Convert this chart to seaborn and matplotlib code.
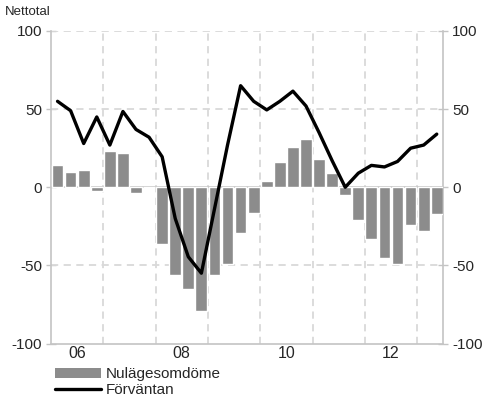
import numpy as np
import pandas as pd
import matplotlib
matplotlib.use("Agg")
import matplotlib.pyplot as plt
from matplotlib.lines import Line2D
from matplotlib.patches import Patch
import seaborn as sns

# quarterly data 2006Q1 - 2013Q2
years = [2006, 2007, 2008, 2009, 2010, 2011, 2012, 2013]
quarters = [f"{y}Q{q}" for y in years for q in range(1, 5)][:30]
nulage = [14, 10, 11, -2.5, 23, 22, -3.5, 0,
          -36, -56, -65, -79, -56, -49, -29, -16.5,
          4, 16, 25.5, 31, 18, 9, -5, -21,
          -33, -45, -49, -24, -28, -17]
forvantan = [55, 49, 28, 45, 27, 48.5, 37, 32,
             19.5, -20, -44.5, -55, -14, 27, 65, 55,
             49.5, 55, 61.5, 52, 35, 17, 0, 9,
             14, 13, 16.5, 25, 27, 34]
year_labels = ["06", "08", "10", "12"]
yticks = [-100, -50, 0, 50, 100]

df = pd.DataFrame({"kvartal": quarters, "Nulägesomdöme": nulage,
                   "Förväntan": forvantan})
df["pos"] = np.arange(len(df))

sns.set_style("white")
plt.rcParams["font.family"] = ["Liberation Sans", "DejaVu Sans"]

bar_color = "#8c8c8c"
grid_color = "#d9d9d9"
spine_color = "#c4c4c4"

fig = plt.figure(figsize=(4.89, 4.03), dpi=100)
ax = fig.add_axes([51 / 489, 1 - 343.5 / 403, 392.3 / 489, 312.5 / 403])

sns.barplot(data=df, x="kvartal", y="Nulägesomdöme", color=bar_color,
            saturation=1, width=0.9, ax=ax, zorder=3)
sns.lineplot(data=df, x="pos", y="Förväntan", color="black", linewidth=2.4,
             ax=ax, zorder=4)

ax.set_xlim(-0.5, len(df) - 0.5)
ax.set_ylim(-100, 100)

# grid lines
for yv in [50, -50, 100]:
    ax.axhline(yv, color=grid_color, linestyle=(0, (4, 3)), linewidth=1.3, zorder=1)
ax.axhline(0, color=spine_color, linewidth=1.2, zorder=2)
for xv in np.arange(3.5, len(df) - 1, 4):
    ax.axvline(xv, color=grid_color, linestyle=(0, (4, 3)), linewidth=1.3, zorder=1)

ax.spines["top"].set_visible(False)
for s in ["left", "right", "bottom"]:
    ax.spines[s].set_color(spine_color)
    ax.spines[s].set_linewidth(1.2)

ax.set_yticks(yticks)
ax.set_yticklabels([str(v) for v in yticks])
ax.tick_params(axis="y", left=True, right=True, labelleft=True, labelright=True,
               direction="inout", length=7, width=1, color=spine_color,
               labelsize=11, pad=3)

ax.set_xticks([1.5, 9.5, 17.5, 25.5])
ax.set_xticklabels(year_labels)
ax.set_xticks(np.arange(-0.5, len(df), 1), minor=True)
ax.tick_params(axis="x", which="major", length=0, labelsize=11.5, pad=2)
ax.tick_params(axis="x", which="minor", direction="in", length=3, width=1,
               color=spine_color)

ax.set_xlabel("")
ax.set_ylabel("")

fig.text(5 / 489, 1 - 12 / 403, "Nettotal", fontsize=9.5, va="center", ha="left")

handles = [Patch(facecolor=bar_color, edgecolor="none"),
           Line2D([0], [0], color="black", linewidth=2.4)]
fig.legend(handles, ["Nulägesomdöme", "Förväntan"], loc="upper left",
           bbox_to_anchor=(55 / 489, 1 - 367 / 403), frameon=False,
           fontsize=11, handlelength=3.0, handleheight=0.65,
           handletextpad=0.3, labelspacing=0.15, borderpad=0, borderaxespad=0)

fig.savefig("out.png", dpi=100)
